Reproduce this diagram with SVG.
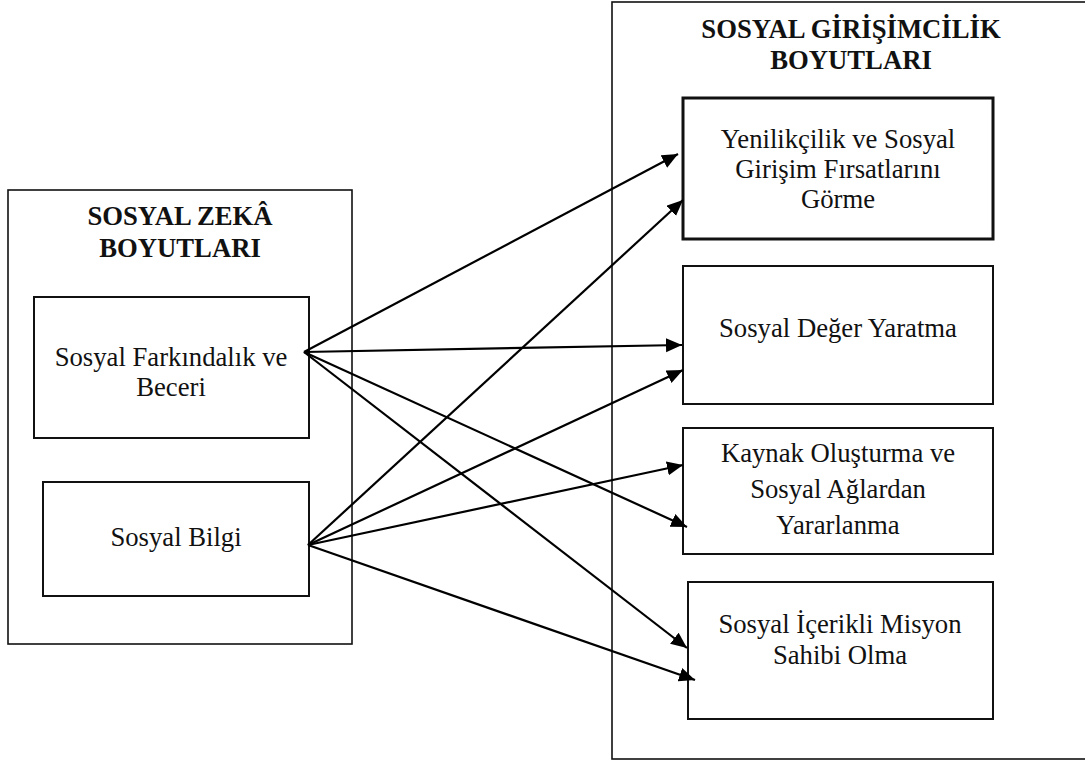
<svg xmlns="http://www.w3.org/2000/svg" width="1085" height="764" viewBox="0 0 1085 764">
<style>
.bg{fill:#fff}
.outer{fill:none;stroke:#111;stroke-width:1.6}
.box{fill:#fff;stroke:#111;stroke-width:2}
.thick{stroke-width:3}
.t{font-family:"Liberation Serif","Times New Roman",serif;font-size:26.7px;fill:#111;text-anchor:middle}
.h{font-weight:bold}
.c{fill:none;stroke:#000;stroke-width:2.2}
</style>
<defs>
<marker id="ah" markerUnits="userSpaceOnUse" markerWidth="17" markerHeight="15" refX="16" refY="7" orient="auto">
<path d="M0,0 L16,7 L0,14 z" fill="#000"/>
</marker>
</defs>
<rect class="bg" x="0" y="0" width="1085" height="764"/>
<g id="left-group">
<rect class="outer" x="8" y="190" width="344" height="454"/>
<text class="t h" x="180" y="225">SOSYAL ZEKÂ</text>
<text class="t h" x="180" y="257">BOYUTLARI</text>
</g>
<g id="right-group">
<rect class="outer" x="612" y="2" width="500" height="757"/>
<text class="t h" x="851" y="38">SOSYAL GİRİŞİMCİLİK</text>
<text class="t h" x="851" y="69">BOYUTLARI</text>
</g>
<g id="n-farkindalik">
<rect class="box" x="34" y="297" width="275" height="141"/>
<text class="t" x="171" y="366">Sosyal Farkındalık ve</text>
<text class="t" x="171" y="396">Beceri</text>
</g>
<g id="n-bilgi">
<rect class="box" x="43" y="482" width="266" height="114"/>
<text class="t" x="176" y="546">Sosyal Bilgi</text>
</g>
<g id="n-yenilikcilik">
<rect class="box thick" x="683" y="98" width="310" height="141"/>
<text class="t" x="838" y="148">Yenilikçilik ve Sosyal</text>
<text class="t" x="838" y="178">Girişim Fırsatlarını</text>
<text class="t" x="838" y="208">Görme</text>
</g>
<g id="n-deger">
<rect class="box" x="683" y="266" width="310" height="138"/>
<text class="t" x="838" y="337">Sosyal Değer Yaratma</text>
</g>
<g id="n-kaynak">
<rect class="box" x="683" y="428" width="310" height="126"/>
<text class="t" x="838" y="462">Kaynak Oluşturma ve</text>
<text class="t" x="838" y="498">Sosyal Ağlardan</text>
<text class="t" x="838" y="534">Yararlanma</text>
</g>
<g id="n-icerikli">
<rect class="box" x="688" y="582" width="305" height="137"/>
<text class="t" x="840" y="633">Sosyal İçerikli Misyon</text>
<text class="t" x="840" y="664">Sahibi Olma</text>
</g>
<g id="connectors">
<line class="c" x1="304" y1="352" x2="678" y2="154" marker-end="url(#ah)"/>
<line class="c" x1="304" y1="352" x2="682" y2="345" marker-end="url(#ah)"/>
<line class="c" x1="304" y1="352" x2="687" y2="527" marker-end="url(#ah)"/>
<line class="c" x1="304" y1="352" x2="687" y2="648" marker-end="url(#ah)"/>
<line class="c" x1="308" y1="545" x2="683" y2="200" marker-end="url(#ah)"/>
<line class="c" x1="308" y1="545" x2="683" y2="370" marker-end="url(#ah)"/>
<line class="c" x1="308" y1="545" x2="683" y2="465" marker-end="url(#ah)"/>
<line class="c" x1="308" y1="545" x2="695" y2="680" marker-end="url(#ah)"/>
</g>
</svg>
